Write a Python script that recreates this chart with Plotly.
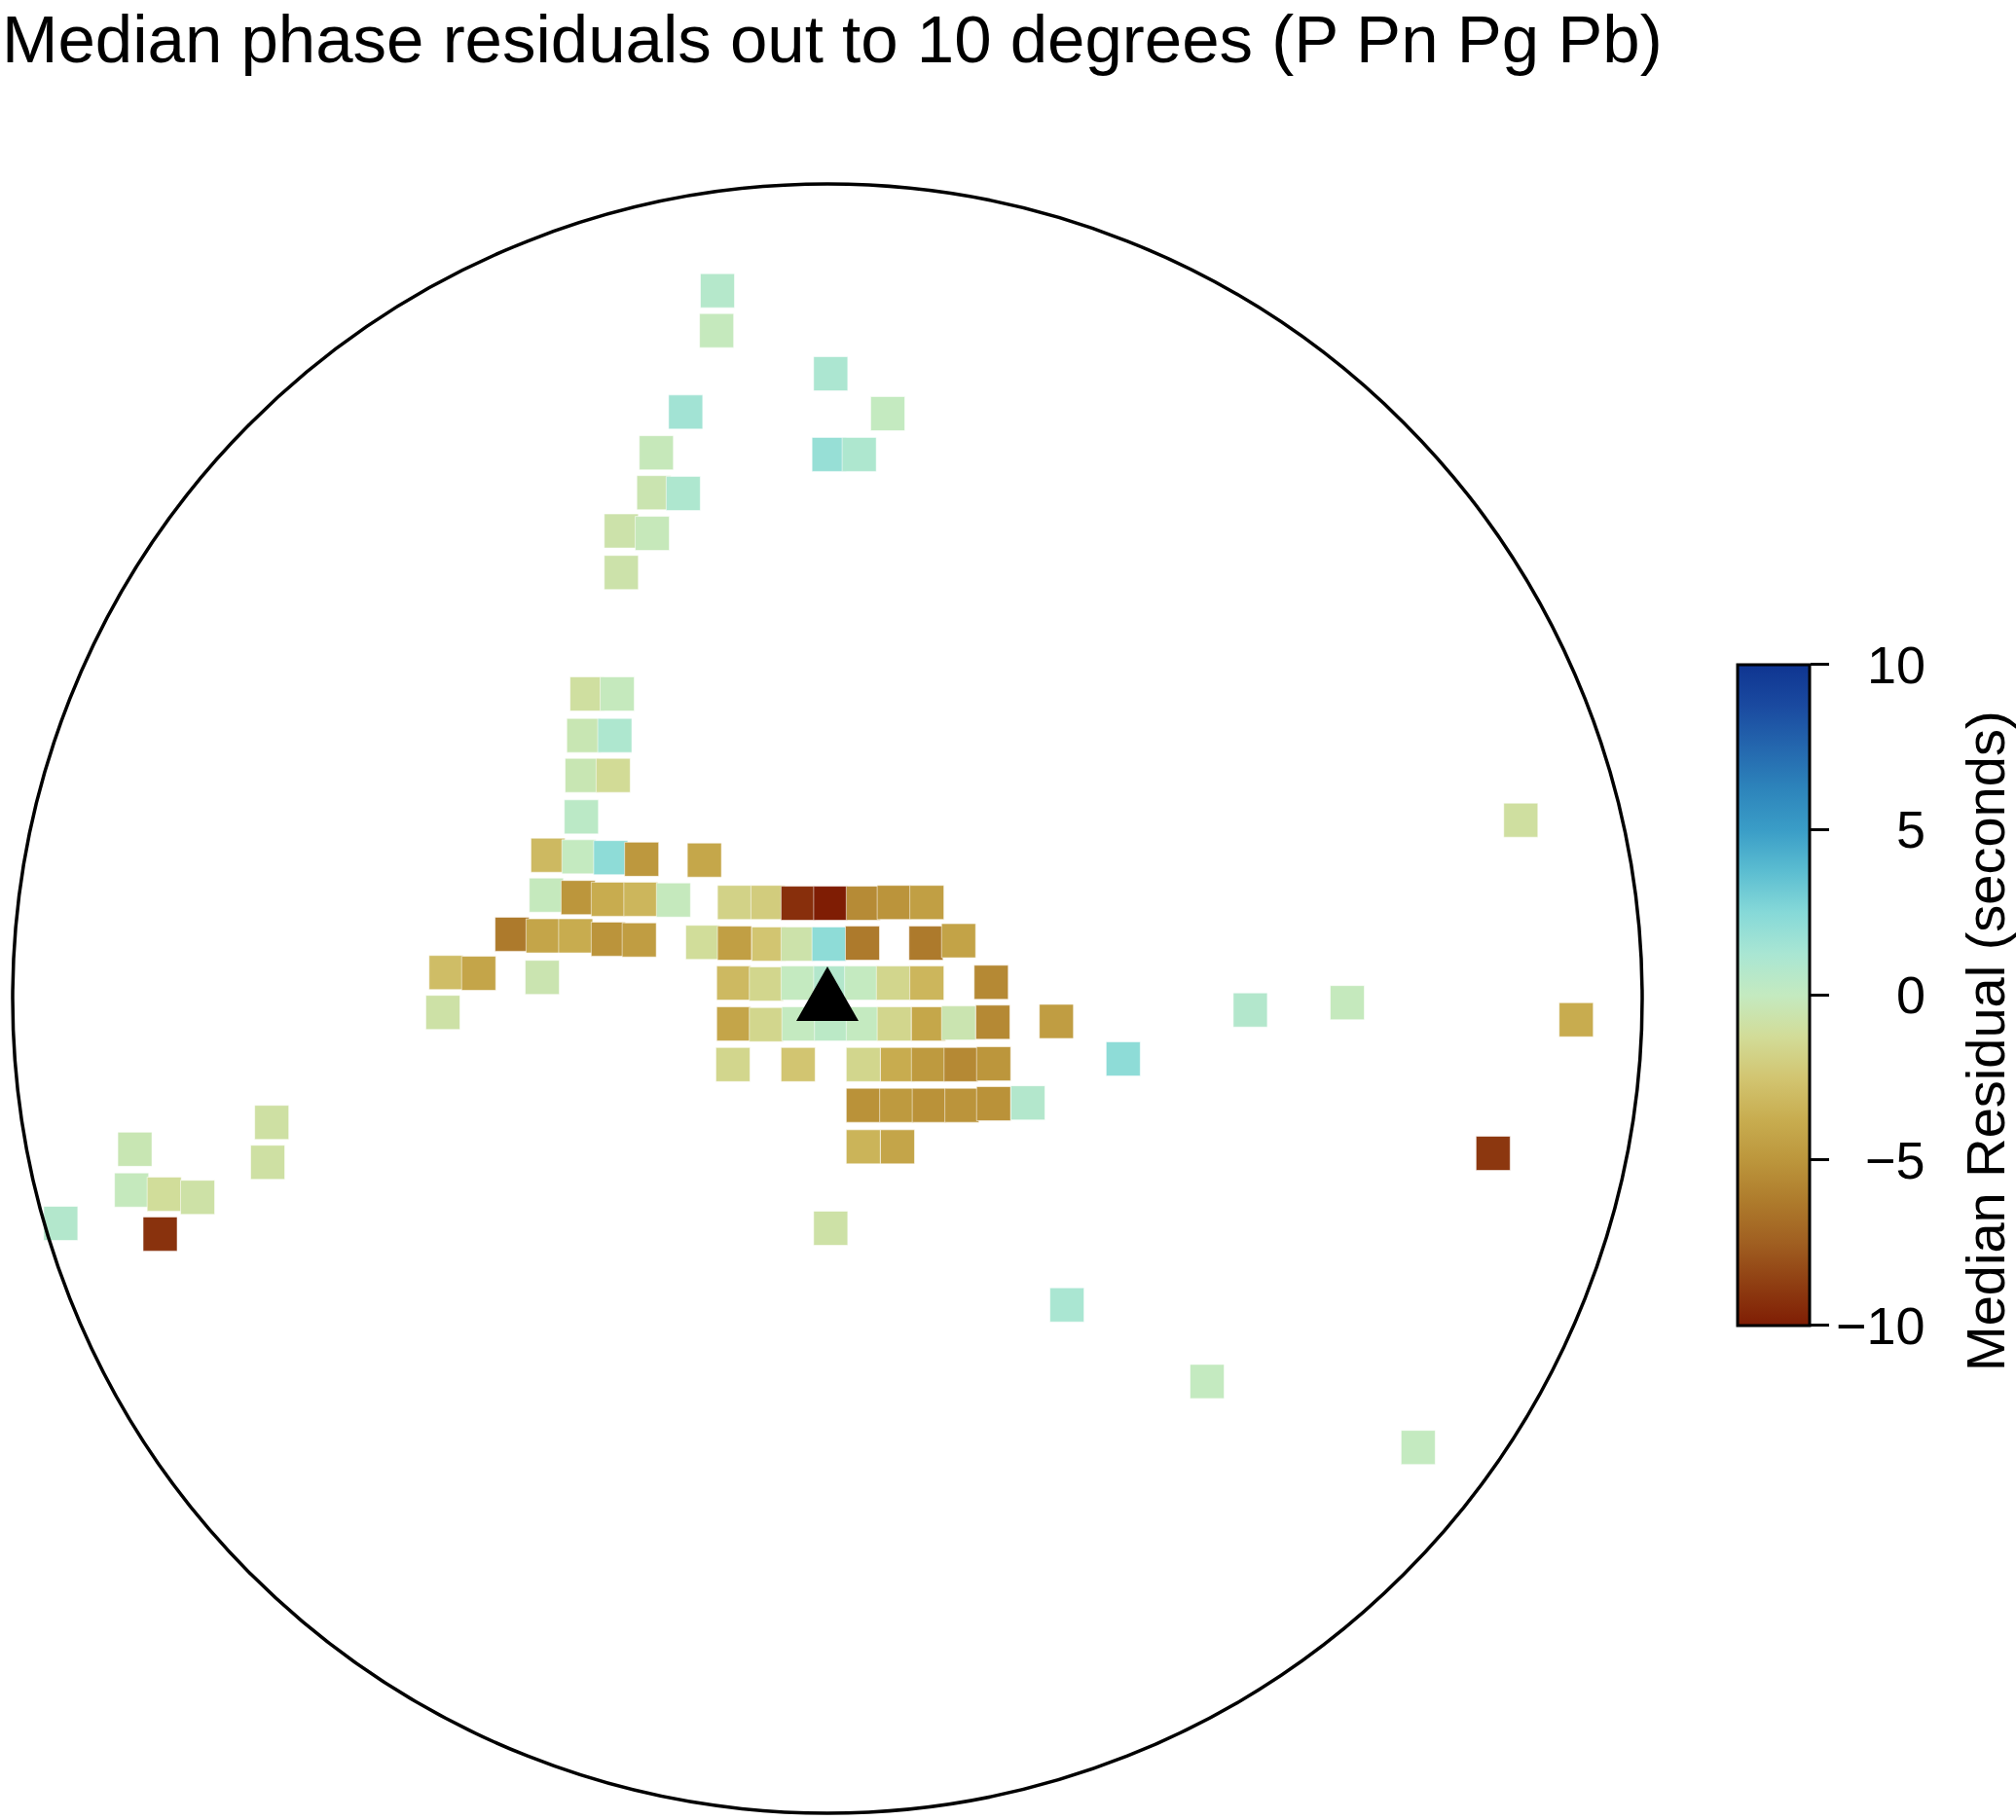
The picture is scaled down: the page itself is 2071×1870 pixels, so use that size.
import plotly.graph_objects as go

# ---------------- data ----------------
# station-centred map offsets in degrees (east, north) and median residual (s)
EAST_DEG = [
    -1.35, -1.36, 0.04, 0.74, -1.74, -2.10, 0.02, 0.39, -2.13, -1.77, -2.53, -2.15, -2.53,
    -2.95, -2.58, -2.99, -2.61, -3.01, -2.63, -3.02,
    -3.43, -3.05, -2.66, -2.28, -1.51,
    -3.45, -3.06, -2.69, -2.29, -1.89, -1.14, -0.73, -0.36, 0.04, 0.44, 0.82, 1.22,
    -3.87, -3.49, -3.09, -2.69, -2.31, -1.53, -1.14, -0.72, -0.36, 0.02, 0.43, 1.21, 1.61,
    -4.68, -4.28, -3.50, -1.15, -0.75, -0.36, 0.04, 0.42, 0.81, 1.22, 2.01,
    -4.72, -1.15, -0.75, -0.35, 0.05, 0.44, 0.82, 1.24, 1.61, 2.03, 2.81,
    -1.16, -0.36, 0.44, 0.86, 1.24, 1.64, 2.04,
    0.44, 0.85, 1.25, 1.65, 2.04, 2.46,
    0.44, 0.86,
    0.04,
    8.51, 6.38, 5.19, 3.63, 9.19, 8.17, 2.94, 4.66, 7.25,
    -6.82, -6.87, -8.50, -8.54, -8.14, -7.73, -8.19, -9.41,
]
NORTH_DEG = [
    8.69, 8.20, 7.67, 7.18, 7.20, 6.70, 6.68, 6.68, 6.21, 6.20, 5.74, 5.71, 5.23,
    3.74, 3.74, 3.23, 3.23, 2.74, 2.74, 2.23,
    1.76, 1.74, 1.73, 1.71, 1.70,
    1.27, 1.24, 1.22, 1.22, 1.21, 1.18, 1.18, 1.17, 1.17, 1.17, 1.18, 1.18,
    0.79, 0.77, 0.77, 0.73, 0.72, 0.69, 0.68, 0.67, 0.67, 0.67, 0.68, 0.68, 0.71,
    0.32, 0.31, 0.26, 0.19, 0.18, 0.19, 0.19, 0.19, 0.19, 0.19, 0.20,
    -0.17, -0.31, -0.32, -0.31, -0.31, -0.31, -0.31, -0.31, -0.30, -0.29, -0.28,
    -0.81, -0.81, -0.81, -0.81, -0.81, -0.81, -0.80,
    -1.31, -1.31, -1.31, -1.31, -1.29, -1.28,
    -1.82, -1.82,
    -2.82,
    2.19, -0.05, -0.14, -0.74, -0.26, -1.90, -3.76, -4.70, -5.51,
    -1.52, -2.01, -1.85, -2.35, -2.40, -2.44, -2.89, -2.76,
]
MEDIAN_RESIDUAL = [
    0.7, -0.1, 1.1, 0.0, 1.5, -0.2, 1.9, 1.0, -0.5, 1.0, -0.7, -0.2, -0.7,
    -1.0, -0.1, -0.4, 1.0, -0.4, -1.3, 0.4,
    -3.1, 0.0, 2.2, -4.9, -4.1,
    -0.1, -5.0, -3.8, -3.3, -0.1, -1.8, -2.1, -9.3, -10.0, -5.5, -5.1, -4.5,
    -6.3, -4.2, -3.8, -5.1, -4.6, -1.2, -4.5, -2.5, -0.7, 2.2, -6.3, -6.3, -4.3,
    -2.9, -4.2, -0.5, -3.1, -1.6, 0.0, 0.8, 0.0, -1.6, -3.3, -5.6,
    -0.8, -4.2, -1.6, 0.0, 0.4, 0.0, -1.6, -4.1, -0.5, -5.6, -4.6,
    -1.6, -2.5, -1.6, -3.8, -4.8, -5.6, -5.0,
    -5.2, -4.8, -5.2, -5.1, -5.2, 0.8,
    -3.4, -4.2,
    -0.8,
    -1.0, -0.1, 0.8, 2.2, -3.8, -9.0, 1.2, 0.0, 0.0,
    -0.9, -0.9, -0.4, -0.1, -1.2, -0.8, -9.2, 0.8,
]

STATION_EAST = [0.0]
STATION_NORTH = [0.0]
MAX_DISTANCE_DEG = 10
RESIDUAL_RANGE = [-10, 10]
CB_TICK_VALUES = [-10, -5, 0, 5, 10]
CB_TICK_LABELS = ["\u221210", "\u22125", "0", "5", "10"]
TITLE = "Median phase residuals out to 10 degrees (P Pn Pg Pb)"
CB_TITLE = "Median Residual (seconds)"

# roma-like diverging colour scale (brown -> pale green -> blue)
ROMA_COLORS = [
    "#7f1d04", "#8f3e12", "#a05f21", "#ae7b2c", "#bc963c", "#c8ad50",
    "#d2c571", "#d2dc98", "#c4eac0", "#a9e6d3", "#86d9d8", "#5bbdd1",
    "#3a9dc7", "#2d84bb", "#2467ae", "#1a4aa0", "#0f3591",
]

# ---------------- layout geometry ----------------
W, H = 2071, 1870
CX_PX, CY_PX = 850, 1026          # pixel position of the station / circle centre
PX_PER_DEG = 83.7
FONT = "Liberation Sans, Arial, Helvetica, sans-serif"

CB_LEFT_PX = 1784.5
CB_CENTER_PX = 1022
CB_LEN_PX = 679

colorscale = [[i / (len(ROMA_COLORS) - 1), c] for i, c in enumerate(ROMA_COLORS)]

fig = go.Figure()
fig.add_trace(go.Scatter(
    x=EAST_DEG, y=NORTH_DEG, mode="markers",
    hovertemplate="E %{x}\u00b0, N %{y}\u00b0<br>%{marker.color} s<extra></extra>",
    marker=dict(
        symbol="square", size=35,
        color=MEDIAN_RESIDUAL, colorscale=colorscale,
        cmin=RESIDUAL_RANGE[0], cmax=RESIDUAL_RANGE[1],
        line=dict(width=1, color="rgba(255,255,255,0.55)"),
        showscale=True,
        colorbar=dict(
            thickness=74, len=CB_LEN_PX, lenmode="pixels",
            x=CB_LEFT_PX / W, xanchor="left",
            y=1 - CB_CENTER_PX / H, yanchor="middle",
            xpad=0, ypad=0,
            outlinewidth=3, outlinecolor="black",
            ticks="outside", ticklen=19, tickwidth=2.5, tickcolor="black",
            tickmode="array", tickvals=CB_TICK_VALUES, showticklabels=False,
        ),
    ),
    showlegend=False,
))

annotations = [
    dict(text=TITLE, xref="paper", yref="paper", x=0, y=1,
         xanchor="left", yanchor="top", yshift=0, showarrow=False,
         font=dict(family=FONT, size=69, color="black")),
    dict(text=CB_TITLE, xref="paper", yref="paper", x=2039 / W, y=1 - 1070 / H,
         xanchor="center", yanchor="middle", textangle=-90, showarrow=False,
         font=dict(family=FONT, size=56, color="black")),
]
span = RESIDUAL_RANGE[1] - RESIDUAL_RANGE[0]
mid = (RESIDUAL_RANGE[0] + RESIDUAL_RANGE[1]) / 2
for v, lab in zip(CB_TICK_VALUES, CB_TICK_LABELS):
    py = CB_CENTER_PX - (v - mid) / span * CB_LEN_PX
    annotations.append(dict(text=lab, xref="paper", yref="paper", x=1980 / W, y=1 - py / H,
                            xanchor="right", yanchor="middle", showarrow=False,
                            font=dict(family=FONT, size=54, color="black")))

shapes = [
    dict(type="circle", xref="x", yref="y",
         x0=-MAX_DISTANCE_DEG, x1=MAX_DISTANCE_DEG, y0=-MAX_DISTANCE_DEG, y1=MAX_DISTANCE_DEG,
         line=dict(color="black", width=3.5), layer="above"),
    dict(type="path", xref="x", yref="y", xsizemode="pixel", ysizemode="pixel",
         xanchor=STATION_EAST[0], yanchor=STATION_NORTH[0],
         path="M -32,-23 L 32,-23 L 0,33 Z",
         fillcolor="black", line=dict(width=0), layer="above"),
]

fig.update_layout(
    width=W, height=H,
    margin=dict(l=0, r=0, t=0, b=0, pad=0, autoexpand=False),
    paper_bgcolor="white", plot_bgcolor="white",
    xaxis=dict(range=[-CX_PX / PX_PER_DEG, (W - CX_PX) / PX_PER_DEG], visible=False, fixedrange=True),
    yaxis=dict(range=[(CY_PX - H) / PX_PER_DEG, CY_PX / PX_PER_DEG], visible=False, fixedrange=True),
    annotations=annotations, shapes=shapes,
    font=dict(family=FONT, color="black"),
)

fig.write_html("out.html", config={"displayModeBar": False},
               post_script="document.body.style.margin='0';document.body.style.overflow='hidden';")
